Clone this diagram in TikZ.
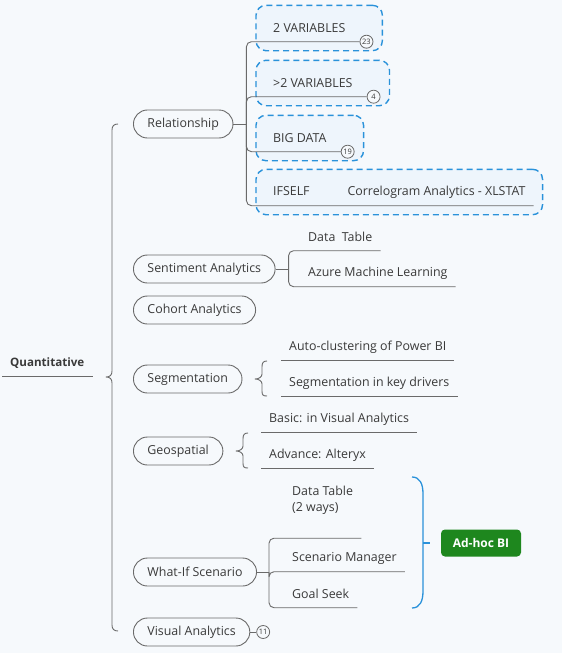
\documentclass[tikz,border=0pt]{standalone}
\usepackage{fontspec}
\setmainfont{Open Sans}
\usetikzlibrary{positioning,fit,backgrounds}

\definecolor{bgcol}{HTML}{F6F9FC}
\definecolor{boxfill}{HTML}{EEF5FC}
\definecolor{linegray}{HTML}{6A6A6A}
\definecolor{txt}{HTML}{3A3A3A}
\definecolor{dashblue}{HTML}{2A92DA}
\definecolor{adgreen}{HTML}{1E871E}

\begin{document}
\begin{tikzpicture}[x=1pt, y=-1pt, line join=round,
    every node/.style={font=\fontsize{12.4}{16}\selectfont, text=txt},
    topic/.style={draw=linegray, line width=0.9pt, rounded corners=14pt, minimum height=28pt, inner xsep=14pt, anchor=west},
    leaf/.style={anchor=west, inner xsep=8pt, inner ysep=0pt, minimum height=27pt, align=left},
    link/.style={draw=linegray, line width=0.9pt, rounded corners=5pt},
    curly/.style={draw=linegray, line width=0.9pt},
    badge/.style={circle, draw=linegray, line width=0.8pt, fill=bgcol, inner sep=0pt, minimum size=13pt, font=\fontsize{7.5}{7.5}\selectfont},
    dashbox/.style={draw=dashblue, line width=1.4pt, dash pattern=on 6pt off 4pt, rounded corners=10pt, fill=boxfill, inner sep=9pt},
    bluebrace/.style={draw=dashblue, line width=1.3pt}]

  \begin{scope}[on background layer]
    \fill[bgcol] (0,0) rectangle (562,653);
  \end{scope}
  \useasboundingbox (0,0) rectangle (562,653);

  % root
  \node[leaf, font=\bfseries\fontsize{11.6}{14}\selectfont] (quant) at (2,363) {Quantitative};
  \draw[link] (quant.south west) -- (quant.south east);
  \draw[curly] (118,124) .. controls (114,124) and (112,126) .. (112,130) -- (112,371)
    .. controls (112,375) and (110,377) .. (106,377) .. controls (110,377) and (112,379) .. (112,383)
    -- (112,625) .. controls (112,629) and (114,631) .. (118,631);

  % topics
  \node[topic] (rel) at (133,124) {Relationship};
  \node[topic] (senti) at (133,269) {Sentiment Analytics};
  \node[topic] (cohort) at (133,310) {Cohort Analytics};
  \node[topic] (segm) at (133,379) {Segmentation};
  \node[topic] (geo) at (133,451) {Geospatial};
  \node[topic] (whatif) at (133,572) {What-If Scenario};
  \node[topic] (visual) at (133,632) {Visual Analytics};
  \node[badge, right=6pt of visual] (b11) {11};
  \draw[link] (visual) -- (b11);

  % relationship
  \node[leaf] (var2) at (265,28) {2 VARIABLES};
  \node[badge, right=6pt of var2.south east] (b23) {23};
  \node[leaf] (var3) at (265,83) {>2 VARIABLES};
  \node[badge, right=6pt of var3.south east] (b4) {4};
  \node[leaf] (bigdata) at (265,138) {BIG DATA};
  \node[badge, right=6pt of bigdata.south east] (b19) {19};
  \node[leaf] (ifself) at (265,192) {IFSELF\hspace{38pt}Correlogram Analytics - XLSTAT};
  \begin{scope}[on background layer]
    \node[dashbox, fit=(var2)(b23.east)] (box1) {};
    \node[dashbox, fit=(var3)(b4.east)] (box2) {};
    \node[dashbox, fit=(bigdata)(b19.east)] (box3) {};
    \node[dashbox, fit=(ifself)] (box4) {};
  \end{scope}
  \draw[link] (rel.east) -- ++(13,0) coordinate (relj);
  \draw[link] (relj) |- (b23);
  \draw[link] (relj) |- (b4);
  \draw[link] (relj) |- (b19);
  \draw[link] (relj) |- (ifself.south east);

  % sentiment
  \node[leaf] (dtab) at (300,237) {Data\ \ Table};
  \node[leaf] (azure) at (300,273) {Azure Machine Learning};
  \draw[link] (senti.east) -- ++(13,0) coordinate (sentj);
  \draw[link] (sentj) |- (dtab.south east);
  \draw[link] (sentj) |- (azure.south east);

  % segmentation
  \node[leaf] (autoc) at (281,347) {Auto-clustering of Power BI};
  \node[leaf] (keydr) at (281,383) {Segmentation in key drivers};
  \draw[link] (autoc.south west) -- (autoc.south east);
  \draw[link] (keydr.south west) -- (keydr.south east);
  \draw[curly] (267,361) .. controls (263,361) and (262,363) .. (262,367) -- (262,374)
    .. controls (262,377) and (259,379) .. (255,379) .. controls (259,379) and (262,381) .. (262,384)
    -- (262,391) .. controls (262,395) and (263,396) .. (267,396);

  % geospatial
  \node[leaf] (basic) at (261,419) {Basic: in Visual Analytics};
  \node[leaf] (alteryx) at (261,455) {Advance: Alteryx};
  \draw[link] (basic.south west) -- (basic.south east);
  \draw[link] (alteryx.south west) -- (alteryx.south east);
  \draw[curly] (248,433) .. controls (244,433) and (243,435) .. (243,439) -- (243,446)
    .. controls (243,449) and (240,451) .. (236,451) .. controls (240,451) and (243,453) .. (243,456)
    -- (243,463) .. controls (243,467) and (244,468) .. (248,468);

  % what-if
  \node[leaf, minimum height=76pt] (dtab2) at (284,500) {Data Table\\(2 ways)};
  \node[leaf] (scen) at (284,558) {Scenario Manager};
  \node[leaf] (goal) at (284,594) {Goal Seek};
  \draw[link] (whatif.east) -- ++(12,0) coordinate (wifj);
  \draw[link] (wifj) |- (dtab2.south east);
  \draw[link] (wifj) |- (scen.south east);
  \draw[link] (wifj) |- (goal.south east);

  % summary
  \node[fill=adgreen, text=white, rounded corners=4pt, minimum width=80pt, minimum height=27pt,
    font=\bfseries\fontsize{12}{14}\selectfont] (adhoc) at (481,543) {Ad-hoc BI};
  \draw[bluebrace] (412,477) .. controls (420,477) and (423,484) .. (423,494) -- (423,591)
    .. controls (423,601) and (420,608) .. (412,608);
  \draw[bluebrace] (423,543) -- (430,543);
\end{tikzpicture}
\end{document}
